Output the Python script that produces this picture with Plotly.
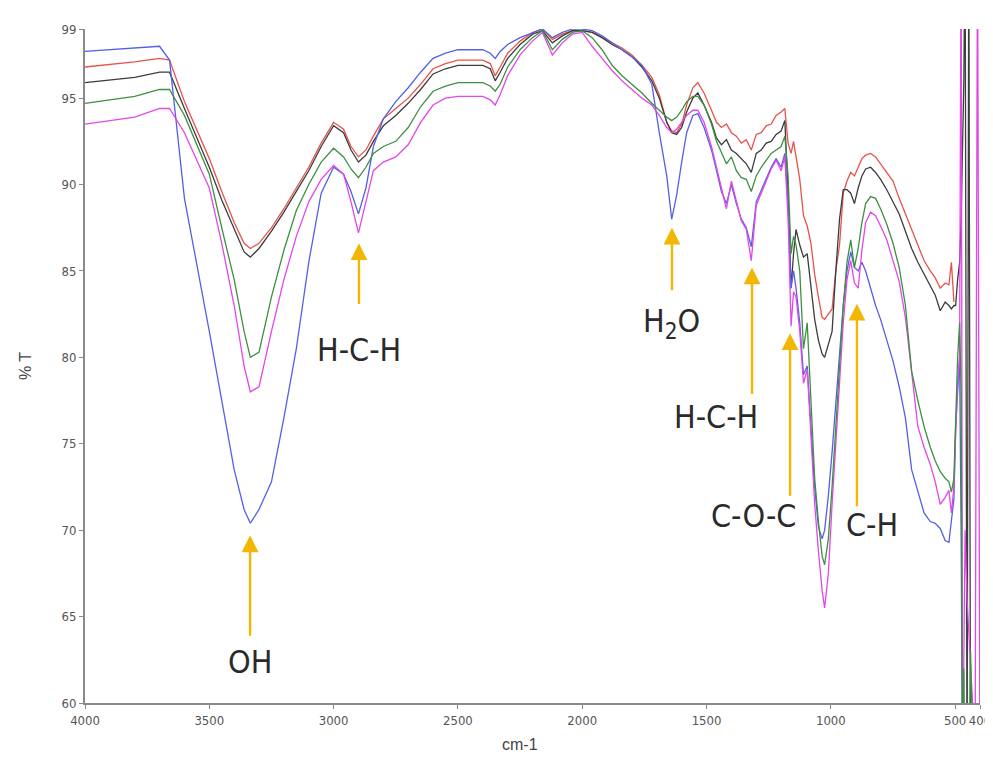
import plotly.graph_objects as go

wavenumber = [4000, 3800, 3700, 3660, 3600, 3500, 3450, 3400, 3360, 3335, 3300, 3250, 3200, 3150, 3100, 3050,
              3000, 2960, 2930, 2900, 2870, 2840, 2800, 2750, 2700, 2650, 2600, 2550, 2500, 2450, 2400, 2370,
              2350, 2330, 2300, 2250, 2200, 2160, 2120, 2080, 2040, 2000, 1960, 1920, 1880, 1840, 1800, 1760,
              1720, 1690, 1660, 1640, 1620, 1600, 1580, 1555, 1535, 1510, 1480, 1460, 1440, 1420, 1400, 1380,
              1360, 1340, 1320, 1300, 1280, 1260, 1240, 1220, 1200, 1185, 1172, 1160, 1150, 1140, 1125, 1110,
              1095, 1080, 1065, 1050, 1035, 1025, 1010, 995, 980, 965, 950, 935, 920, 905, 890, 875,
              860, 840, 820, 800, 775, 750, 725, 700, 675, 650, 625, 600, 580, 560, 540, 525,
              515, 505, 498, 490, 482, 476, 470, 465, 460, 452, 445, 438, 430, 420, 410, 400]

red = [96.8, 97.1, 97.3, 97.2, 94.8, 91.5, 89.6, 87.8, 86.6, 86.3, 86.6, 87.5, 88.6, 89.8, 91.0, 92.4,
       93.6, 93.2, 92.2, 91.6, 92.0, 92.8, 93.8, 94.4, 95.0, 95.8, 96.7, 97.0, 97.2, 97.2, 97.2, 97.0,
       96.3, 96.8, 97.6, 98.3, 98.8, 99.0, 98.4, 98.7, 98.9, 98.9, 98.8, 98.5, 98.2, 97.9, 97.5, 96.9,
       96.2, 95.2, 93.6, 93.1, 93.0, 93.5, 94.6, 95.6, 95.9, 95.3, 94.3, 93.6, 93.3, 93.5, 93.0, 92.8,
       92.4, 92.6, 92.0, 92.9, 93.0, 93.4, 93.5, 94.0, 94.2, 94.4, 92.4, 91.8, 92.5, 91.6, 90.3, 88.2,
       87.6, 86.6, 84.8, 83.5, 82.3, 82.2, 82.5, 82.8, 85.0, 86.5, 89.5, 90.2, 90.7, 90.5, 91.0, 91.5,
       91.7, 91.8, 91.6, 91.2, 90.7, 90.2, 89.2, 88.3, 87.3, 86.5, 85.6, 85.0, 84.6, 84.0, 84.3, 84.2,
       85.5, 83.2, None, None, None, None, None, None, None, None, None, None, None, None, None, None]

black = [95.9, 96.2, 96.5, 96.5, 94.4, 91.0, 89.1, 87.4, 86.1, 85.8, 86.3, 87.3, 88.4, 89.6, 90.8, 92.2,
         93.4, 93.0, 92.0, 91.3, 91.7, 92.5, 93.4, 94.0, 94.7, 95.5, 96.4, 96.7, 96.9, 96.9, 96.9, 96.7,
         96.0, 96.5, 97.3, 98.1, 98.7, 98.9, 98.2, 98.6, 98.9, 98.9, 98.8, 98.5, 98.1, 97.8, 97.4, 96.8,
         96.0, 95.0, 93.6, 93.0, 92.9, 93.3, 94.2, 95.0, 95.3, 94.6, 93.6, 92.7, 92.3, 92.6, 92.0, 91.8,
         91.5, 91.2, 90.7, 91.8, 92.0, 92.4, 92.5, 92.9, 93.1, 93.7, 89.5, 84.0, 86.0, 87.4, 86.5, 85.8,
         86.0, 84.0, 82.2, 81.0, 80.2, 80.0, 80.8, 81.5, 85.0, 88.0, 89.7, 89.7, 89.5, 88.9, 89.8, 90.5,
         90.9, 91.0, 90.7, 90.3, 89.7, 89.0, 88.3, 87.3, 86.3, 85.5, 84.8, 84.1, 83.6, 82.7, 83.2, 83.0,
         82.8, 83.0, 83.0, 84.5, 85.5, 88.0, 92.0, 96.0, 105.0, 55.0, 105.0, 55.0, None, None, None, None]

green = [94.7, 95.1, 95.5, 95.5, 94.0, 90.6, 87.5, 84.5, 81.5, 80.0, 80.3, 83.5, 86.2, 88.5, 90.0, 91.3,
         92.1, 91.6, 90.9, 90.4, 91.0, 91.8, 92.2, 92.5, 93.3, 94.5, 95.4, 95.7, 95.9, 95.9, 95.9, 95.7,
         95.4, 95.8, 96.8, 97.8, 98.5, 98.9, 97.8, 98.4, 98.8, 98.9, 98.5, 97.8, 96.9, 96.3, 95.8, 95.3,
         94.7, 94.3, 93.9, 93.7, 93.9, 94.3, 94.8, 95.1, 95.1, 94.6, 93.5, 92.5, 91.8, 91.2, 91.6, 90.8,
         90.4, 90.3, 89.6, 90.5, 91.0, 91.4, 91.8, 92.0, 92.2, 92.8, 90.5, 86.0, 87.0, 86.5, 85.0, 80.5,
         82.0, 77.5, 73.0, 70.5, 68.5, 68.0, 69.5, 72.5, 76.0, 79.5, 83.0, 85.5, 86.8, 85.2, 86.3, 87.8,
         88.9, 89.3, 89.2, 88.6, 87.7, 86.6, 85.2, 83.0, 79.2, 77.5, 76.0, 74.8, 74.0, 73.4, 73.0, 72.8,
         72.2, 73.0, 77.0, 80.0, 82.0, 78.0, 55.0, 62.0, 55.0, 60.0, 55.0, 63.0, 58.0, None, None, None]

magenta = [93.5, 93.9, 94.4, 94.4, 93.0, 89.8, 86.6, 83.0, 79.5, 78.0, 78.3, 81.5, 84.5, 87.0, 89.0, 90.3,
           91.1, 90.6, 89.0, 87.2, 89.0, 90.8, 91.3, 91.6, 92.3, 93.6, 94.6, 95.0, 95.1, 95.1, 95.1, 94.9,
           94.6, 95.2, 96.3, 97.5, 98.3, 98.8, 97.5, 98.2, 98.7, 98.8, 98.0, 97.3, 96.6, 96.0, 95.5, 95.0,
           94.6, 94.0, 93.3, 93.0, 93.2, 93.6, 94.0, 94.3, 94.3, 93.6, 92.2, 91.0, 89.8, 88.6, 90.2, 89.0,
           87.9, 87.4, 85.6, 88.8, 89.5, 90.2, 90.9, 91.4, 90.8, 91.6, 88.0, 81.8, 83.8, 83.5, 81.5, 78.5,
           79.3, 75.5, 71.5, 68.8, 66.5, 65.5, 67.5, 71.5, 75.0, 78.5, 82.0, 84.5, 85.6, 84.3, 84.0, 86.2,
           87.8, 88.4, 88.2, 87.6, 86.8, 85.6, 84.4, 82.3, 79.0, 76.0, 74.8, 73.8, 72.8, 71.5, 71.9, 72.3,
           71.0, 72.5, 75.5, 78.5, 80.0, 105.0, 55.0, 62.0, 70.0, 66.0, 64.0, 62.0, 60.0, 55.0, 105.0, 55.0]

blue = [97.7, 97.9, 98.0, 97.2, 89.2, 81.5, 77.6, 73.5, 71.2, 70.4, 71.2, 72.8, 76.5, 80.5, 85.5, 89.5,
        91.0, 90.6, 89.6, 88.3, 89.8, 92.2, 93.8, 94.8, 95.6, 96.5, 97.3, 97.6, 97.8, 97.8, 97.8, 97.6,
        97.3, 97.7, 98.1, 98.5, 98.8, 99.0, 98.5, 98.8, 99.0, 99.0, 98.9, 98.6, 98.2, 97.8, 97.4, 96.9,
        95.8, 93.0, 90.5, 88.0, 89.4, 91.3, 93.0, 94.0, 94.1, 93.3, 92.0, 90.8, 89.6, 88.9, 90.0, 88.9,
        88.0, 87.5, 86.4, 89.0, 89.7, 90.4, 91.0, 91.5, 91.0, 91.8, 89.0, 84.0, 85.0, 84.0, 82.0, 79.0,
        79.5, 76.0, 72.5, 70.2, 69.5, 70.0, 72.0, 74.5, 77.5, 80.5, 83.0, 85.0, 86.1, 85.2, 85.0, 85.5,
        85.0, 84.0, 83.0, 82.2, 81.0, 79.8, 78.3, 76.5, 73.5, 72.2, 71.0, 70.5, 70.4, 70.1, 69.4, 69.3,
        70.5, 71.8, 76.0, 78.0, 80.0, 70.0, 55.0, None, None, None, None, None, None, None, None, None]

series_names = ["red", "black", "blue", "magenta", "green"]
series_values = {"red": red, "black": black, "blue": blue, "magenta": magenta, "green": green}
series_colors = {"red": "#E8524C", "black": "#3C3C3C", "blue": "#5460E4",
                 "magenta": "#E247E8", "green": "#3F8F42"}

y_ticks = [60, 65, 70, 75, 80, 85, 90, 95, 99]
x_ticks = [4000, 3500, 3000, 2500, 2000, 1500, 1000, 500, 400]

# peak labels: text, arrow x, arrow head y, arrow tail y, label x, label y
peak_labels = ["OH", "H-C-H", "H<sub>2</sub>O", "H-C-H", "C-O-C", "C-H"]
arrow_x = [3336, 2898, 1639, 1317, 1164, 895]
arrow_head_y = [69.7, 86.6, 87.5, 85.2, 81.4, 83.1]
arrow_tail_y = [63.8, 83.0, 83.8, 77.8, 71.9, 71.3]
label_x = [3336, 2898, 1639, 1462, 1313, 835]
label_y = [62.4, 80.4, 82.0, 76.55, 70.8, 70.3]

fig = go.Figure()
for name in series_names:
    fig.add_trace(go.Scatter(x=wavenumber, y=series_values[name], mode="lines",
                             line=dict(color=series_colors[name], width=1.3),
                             name=name, showlegend=False))

label_font = dict(family="DejaVu Sans Condensed, Liberation Sans Narrow, Liberation Sans",
                  size=32, color="#2a2a2a")
for i in range(len(peak_labels)):
    fig.add_annotation(x=arrow_x[i], y=arrow_head_y[i], ax=arrow_x[i], ay=arrow_tail_y[i],
                       xref="x", yref="y", axref="x", ayref="y", text="", showarrow=True,
                       arrowhead=2, arrowsize=1.4, arrowwidth=2.4, arrowcolor="#F2B705")
    fig.add_annotation(x=label_x[i], y=label_y[i], xref="x", yref="y", text=peak_labels[i],
                       showarrow=False, font=label_font, xanchor="center", yanchor="middle")

title_font = dict(family="Liberation Sans, Arial, sans-serif", size=16, color="#444444")
fig.add_annotation(x=-0.067, y=0.50, xref="paper", yref="paper", text="% T", textangle=-90,
                   showarrow=False, font=title_font, xanchor="center", yanchor="middle")
fig.add_annotation(x=0.486, y=-0.061, xref="paper", yref="paper", text="cm-1",
                   showarrow=False, font=title_font, xanchor="center", yanchor="middle")

tick_font = dict(family="Liberation Sans Narrow, DejaVu Sans Condensed, Liberation Sans", size=13, color="#555555")
fig.update_xaxes(range=[4000, 400], tickvals=x_ticks, ticktext=[str(v) for v in x_ticks],
                 showline=True, linecolor="#8a8a8a", linewidth=2, ticks="outside", ticklen=4,
                 tickcolor="#8a8a8a", showgrid=False, zeroline=False, tickfont=tick_font,
                 automargin=False)
fig.update_yaxes(range=[60, 99], tickvals=y_ticks, ticktext=[str(v) for v in y_ticks],
                 showline=True, linecolor="#8a8a8a", linewidth=2, ticks="outside", ticklen=4,
                 tickcolor="#8a8a8a", showgrid=False, zeroline=False, tickfont=tick_font,
                 automargin=False)
# the page body has an 8px default margin, so the figure is offset by 8px
fig.update_layout(width=985, height=745, margin=dict(l=77, r=13, t=21, b=50),
                  plot_bgcolor="white", paper_bgcolor="white", showlegend=False)

fig.write_html("out.html")
